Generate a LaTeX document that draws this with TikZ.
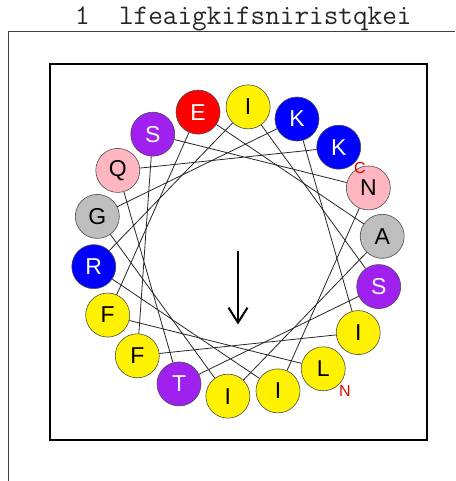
\documentclass[tikz,border=0pt]{standalone}
\usepackage{fontspec}
\setmainfont{Liberation Sans}
\usetikzlibrary{positioning,arrows.meta}
\definecolor{wheelpurple}{RGB}{160,32,240}
\definecolor{wheelpink}{RGB}{255,182,193}
\definecolor{wheelgray}{RGB}{190,190,190}

\begin{document}
\begin{tikzpicture}[
  x=1pt, y=1pt,
  res/.style={circle, draw=black!70, line width=0.6pt, minimum size=44pt, inner sep=0pt, font=\fontsize{23}{23}\selectfont},
  hyd/.style={res, fill=yellow},
  basic/.style={res, fill=blue, text=white},
  acid/.style={res, fill=red, text=white},
  polar/.style={res, fill=wheelpurple, text=white},
  amide/.style={res, fill=wheelpink},
  small/.style={res, fill=wheelgray},
  term/.style={text=red!90!black, inner sep=0pt, font=\fontsize{16}{16}\selectfont},
  link/.style={draw=black!85, line width=0.8pt},
  arr/.style={-{Straight Barb[length=15pt, width=19pt]}, line width=2pt}
]
\useasboundingbox (0,0) rectangle (455,481);
\draw[black!75, line width=1pt] (8,0) -- (8,449) -- (455,449);
\node[anchor=base west, inner sep=0pt, font=\ttfamily\fontsize{28.4}{28.4}\selectfont, text=black!85] (seq) at (75,456) {1\ \ lfeaigkifsniristqkei};
\draw[line width=2pt] (49.5,41) rectangle (427,416.5);
\coordinate (wc) at (238,229.5);
\node[hyd] (l1) at ([shift={(-54:145)}]wc) {L};
\node[hyd] (f2) at ([shift={(-154:145)}]wc) {F};
\node[acid] (e3) at ([shift={(106:145)}]wc) {E};
\node[small] (a4) at ([shift={(6:145)}]wc) {A};
\node[hyd] (i5) at ([shift={(-94:145)}]wc) {I};
\node[small] (g6) at ([shift={(166:145)}]wc) {G};
\node[basic] (k7) at ([shift={(66:145)}]wc) {K};
\node[hyd] (i8) at ([shift={(-34:145)}]wc) {I};
\node[hyd] (f9) at ([shift={(-134:145)}]wc) {F};
\node[polar] (s10) at ([shift={(126:145)}]wc) {S};
\node[amide] (n11) at ([shift={(26:145)}]wc) {N};
\node[hyd] (i12) at ([shift={(-74:145)}]wc) {I};
\node[basic] (r13) at ([shift={(-174:145)}]wc) {R};
\node[hyd] (i14) at ([shift={(86:145)}]wc) {I};
\node[polar] (s15) at ([shift={(-14:145)}]wc) {S};
\node[polar] (t16) at ([shift={(-114:145)}]wc) {T};
\node[amide] (q17) at ([shift={(146:145)}]wc) {Q};
\node[basic] (k18) at ([shift={(46:145)}]wc) {K};
\node[term] (cterm) at (360,313) {C};
\node[term] (nterm) at (345,90) {N};
\draw[link] (l1) -- (f2) -- (e3) -- (a4) -- (i5) -- (g6) -- (k7) -- (i8) -- (f9);
\draw[link] (f9) -- (s10) -- (n11) -- (i12) -- (r13) -- (i14) -- (s15) -- (t16) -- (q17) -- (k18);
\coordinate[below=73 of wc] (tip);
\draw[arr] (wc) -- (tip);
\end{tikzpicture}
\end{document}
